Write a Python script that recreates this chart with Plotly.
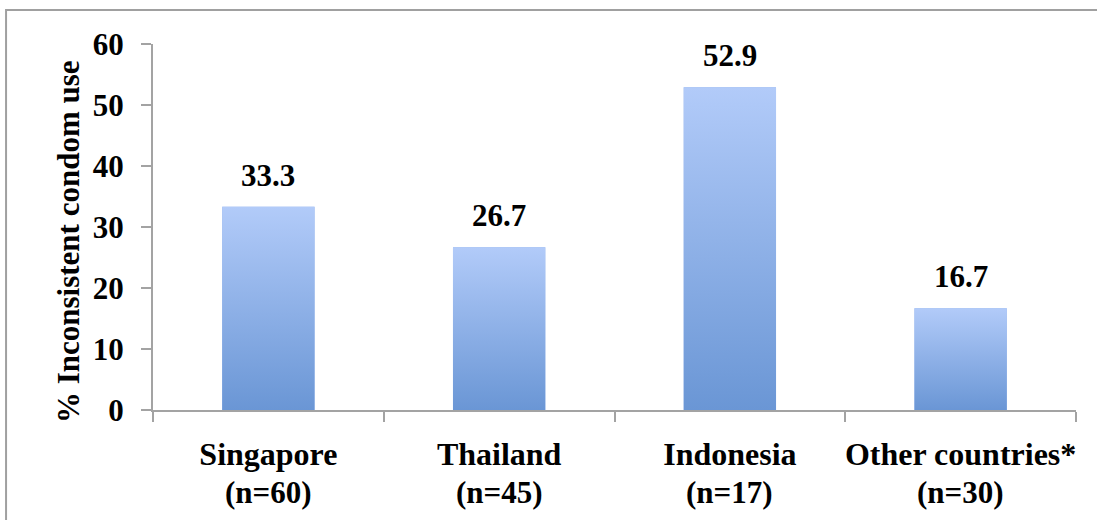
import plotly.graph_objects as go

countries = ["Singapore", "Thailand", "Indonesia", "Other countries*"]
sample_sizes = ["(n=60)", "(n=45)", "(n=17)", "(n=30)"]
values = [33.3, 26.7, 52.9, 16.7]
y_ticks = [0, 10, 20, 30, 40, 50, 60]

FONT = "Liberation Serif"
AXIS_COLOR = "#A3A3A3"
TOP_COLOR = "#B2CBF9"
BOTTOM_COLOR = "#6A96D5"
MID_COLOR = "#8EB0EA"
BAR_W = 0.4

fig = go.Figure()

# real bars
fig.add_trace(go.Bar(
    x=countries, y=values, width=BAR_W,
    marker=dict(color=MID_COLOR, line=dict(width=0)),
    hoverinfo="x+y", showlegend=False,
))

# gradient overlay for each bar (same geometry, numeric overlay axis)
for i, v in enumerate(values):
    fig.add_trace(go.Scatter(
        x=[i - BAR_W / 2, i + BAR_W / 2, i + BAR_W / 2, i - BAR_W / 2, i - BAR_W / 2],
        y=[0, 0, v, v, 0],
        xaxis="x2", yaxis="y",
        mode="lines", line=dict(width=0),
        fill="toself",
        fillgradient=dict(type="vertical",
                          colorscale=[[0, BOTTOM_COLOR], [1, TOP_COLOR]]),
        hoverinfo="skip", showlegend=False,
    ))

annotations = []
# value labels
for c, v in zip(countries, values):
    annotations.append(dict(
        x=c, y=v, xref="x", yref="y", text=f"{v:.1f}", showarrow=False,
        yanchor="bottom", yshift=12,
        font=dict(family=FONT, size=31, color="black", weight="bold"),
    ))
# second line of category labels
for c, n in zip(countries, sample_sizes):
    annotations.append(dict(
        x=c, y=-0.226, xref="x", yref="paper", text=n, showarrow=False,
        yanchor="middle",
        font=dict(family=FONT, size=31, color="black", weight="bold"),
    ))
# y axis title
annotations.append(dict(
    x=-0.0921, y=0.4617, xref="paper", yref="paper",
    text="% Inconsistent condom use", textangle=-90, showarrow=False,
    xanchor="center", yanchor="middle",
    font=dict(family=FONT, size=31, color="black", weight="bold"),
))

fig.update_layout(
    width=1097, height=520,
    margin=dict(l=153, r=21, t=44, b=110, autoexpand=False),
    paper_bgcolor="white", plot_bgcolor="white",
    font=dict(family=FONT, size=31, color="black", weight="bold"),
    xaxis=dict(
        type="category", range=[-0.5, 3.5], automargin=False, tickangle=0,
        showline=True, linecolor=AXIS_COLOR, linewidth=2,
        ticks="outside", ticklen=10, tickcolor=AXIS_COLOR, tickwidth=2,
        tickson="boundaries", showgrid=False, zeroline=False,
        ticklabelstandoff=15,
        tickfont=dict(family=FONT, size=32, color="black", weight="bold"),
    ),
    xaxis2=dict(overlaying="x", range=[-0.5, 3.5], visible=False),
    yaxis=dict(
        range=[0, 60], tickvals=y_ticks, automargin=False,
        showline=True, linecolor=AXIS_COLOR, linewidth=2,
        ticks="outside", ticklen=10, tickcolor=AXIS_COLOR, tickwidth=2,
        showgrid=False, zeroline=False,
        ticklabelstandoff=11,
        tickfont=dict(family=FONT, size=31, color="black", weight="bold"),
    ),
    annotations=annotations,
    shapes=[dict(
        type="rect", xref="paper", yref="paper",
        x0=-0.1592, x1=1.3, y0=-0.6, y1=1.093,
        line=dict(color="#A0A0A0", width=2), fillcolor="rgba(0,0,0,0)",
        layer="below",
    )],
)

fig.write_html("out.html")
